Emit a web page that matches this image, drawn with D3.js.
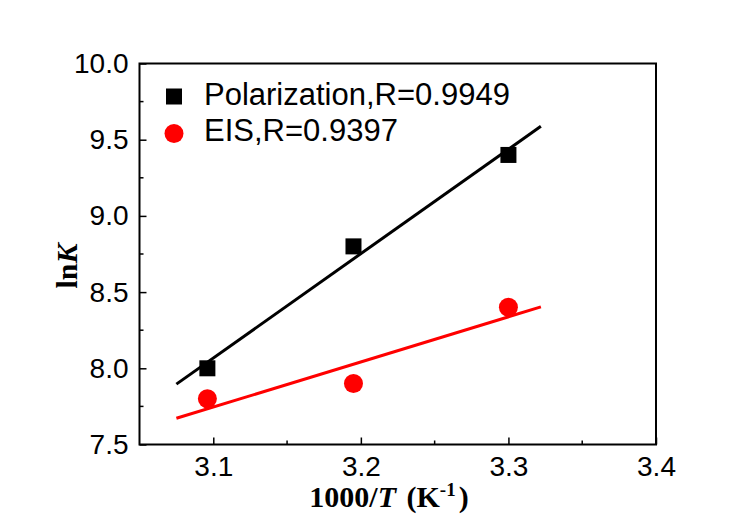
<!DOCTYPE html>
<html>
<head>
<meta charset="utf-8">
<script src="https://cdn.jsdelivr.net/npm/d3@7"></script>
<style>
  body { margin: 0; background: #fff; }
  svg { display: block; }
</style>
</head>
<body>
<div id="chart"></div>
<script>
'use strict';

// 1000/T values and lnK for each method
var xValues = [3.096, 3.195, 3.300];
var polarization = [8.0, 8.8, 9.4];
var eis = [7.8, 7.9, 8.4];

// fitted lines, endpoints
var fitX = [3.075, 3.322];
var polarizationFit = [7.896, 9.588];
var eisFit = [7.672, 8.403];

var seriesNames = ['Polarization,R=0.9949', 'EIS,R=0.9397'];
var xTicks = [3.1, 3.2, 3.3, 3.4];
var yTicks = [7.5, 8.0, 8.5, 9.0, 9.5, 10.0];

var width = 746, height = 529;
var margin = {top: 63.5, right: 90, bottom: 84.5, left: 139.5},
    chartWidth = width - margin.left - margin.right,
    chartHeight = height - margin.top - margin.bottom;

var svg = d3.select('#chart').append('svg')
  .attr('width', width)
  .attr('height', height);

var chart = svg.append('g')
  .attr('transform', 'translate(' + margin.left + ',' + margin.top + ')');

var x = d3.scaleLinear().domain([3.05, 3.4]).range([0, chartWidth]);
var y = d3.scaleLinear().domain([7.5, 10.0]).range([chartHeight, 0]);

var tickFont = '"Liberation Sans", Arial, sans-serif';

// minor ticks
var xMinor = [3.15, 3.25, 3.35];
var yMinor = [7.75, 8.25, 8.75, 9.25, 9.75];

chart.selectAll('.xminor').data(xMinor).enter().append('line')
  .attr('x1', function (d) { return x(d); })
  .attr('x2', function (d) { return x(d); })
  .attr('y1', chartHeight).attr('y2', chartHeight - 4)
  .attr('stroke', '#000').attr('stroke-width', 1.5);

chart.selectAll('.yminor').data(yMinor).enter().append('line')
  .attr('x1', 0).attr('x2', 4)
  .attr('y1', function (d) { return y(d); })
  .attr('y2', function (d) { return y(d); })
  .attr('stroke', '#000').attr('stroke-width', 1.5);

var xAxis = d3.axisBottom(x)
  .tickValues(xTicks)
  .tickFormat(d3.format('.1f'))
  .tickSizeInner(-7)
  .tickSizeOuter(0)
  .tickPadding(12);

var yAxis = d3.axisLeft(y)
  .tickValues(yTicks)
  .tickFormat(d3.format('.1f'))
  .tickSizeInner(-7)
  .tickSizeOuter(0)
  .tickPadding(11);

var gx = chart.append('g')
  .attr('transform', 'translate(0,' + chartHeight + ')')
  .call(xAxis);

var gy = chart.append('g').call(yAxis);

[gx, gy].forEach(function (g) {
  g.select('.domain').remove();
  g.selectAll('.tick line').attr('stroke', '#000').attr('stroke-width', 1.5);
  g.selectAll('.tick text')
    .attr('fill', '#000')
    .style('font-family', tickFont)
    .style('font-size', '28px');
});

// frame
chart.append('rect')
  .attr('x', 0).attr('y', 0)
  .attr('width', chartWidth).attr('height', chartHeight)
  .attr('fill', 'none')
  .attr('stroke', '#000')
  .attr('stroke-width', 2);

// fit lines
var line = d3.line()
  .x(function (d) { return x(d[0]); })
  .y(function (d) { return y(d[1]); });

chart.append('path')
  .datum(d3.zip(fitX, polarizationFit))
  .attr('d', line)
  .attr('fill', 'none').attr('stroke', '#000').attr('stroke-width', 3);

chart.append('path')
  .datum(d3.zip(fitX, eisFit))
  .attr('d', line)
  .attr('fill', 'none').attr('stroke', '#ff0000').attr('stroke-width', 3);

// points
var sq = 16;
chart.selectAll('.sq').data(d3.zip(xValues, polarization)).enter().append('rect')
  .attr('x', function (d) { return x(d[0]) - sq / 2; })
  .attr('y', function (d) { return y(d[1]) - sq / 2; })
  .attr('width', sq).attr('height', sq)
  .attr('fill', '#000');

chart.selectAll('.dot').data(d3.zip(xValues, eis)).enter().append('circle')
  .attr('cx', function (d) { return x(d[0]); })
  .attr('cy', function (d) { return y(d[1]); })
  .attr('r', 9.5)
  .attr('fill', '#ff0000');

// legend
var legend = svg.append('g');
legend.append('rect')
  .attr('x', 166).attr('y', 88.5).attr('width', 16).attr('height', 16)
  .attr('fill', '#000');
legend.append('circle')
  .attr('cx', 174).attr('cy', 133.5).attr('r', 9.5)
  .attr('fill', '#ff0000');
legend.selectAll('.lt').data(seriesNames).enter().append('text')
  .attr('x', 204)
  .attr('y', function (d, i) { return 105 + i * 36; })
  .style('font-family', tickFont)
  .style('font-size', '31px')
  .text(function (d) { return d; });

// axis titles
var titleFont = '"Liberation Serif", "Times New Roman", serif';

var xt = svg.append('text')
  .attr('x', 389).attr('y', 507)
  .attr('text-anchor', 'middle')
  .style('font-family', titleFont)
  .style('font-size', '30px')
  .style('font-weight', 'bold');
xt.append('tspan').text('1000/');
xt.append('tspan').style('font-style', 'italic').text('T');
xt.append('tspan').attr('dx', 3).text(' (K');
xt.append('tspan').attr('dy', -11).style('font-size', '19px').text('-1');
xt.append('tspan').attr('dy', 11).attr('dx', 3).text(')');

var yt = svg.append('text')
  .attr('transform', 'translate(77,266) rotate(-90)')
  .attr('text-anchor', 'middle')
  .style('font-family', titleFont)
  .style('font-size', '30px')
  .style('font-weight', 'bold');
yt.append('tspan').text('ln');
yt.append('tspan').style('font-style', 'italic').text('K');
</script>
</body>
</html>
